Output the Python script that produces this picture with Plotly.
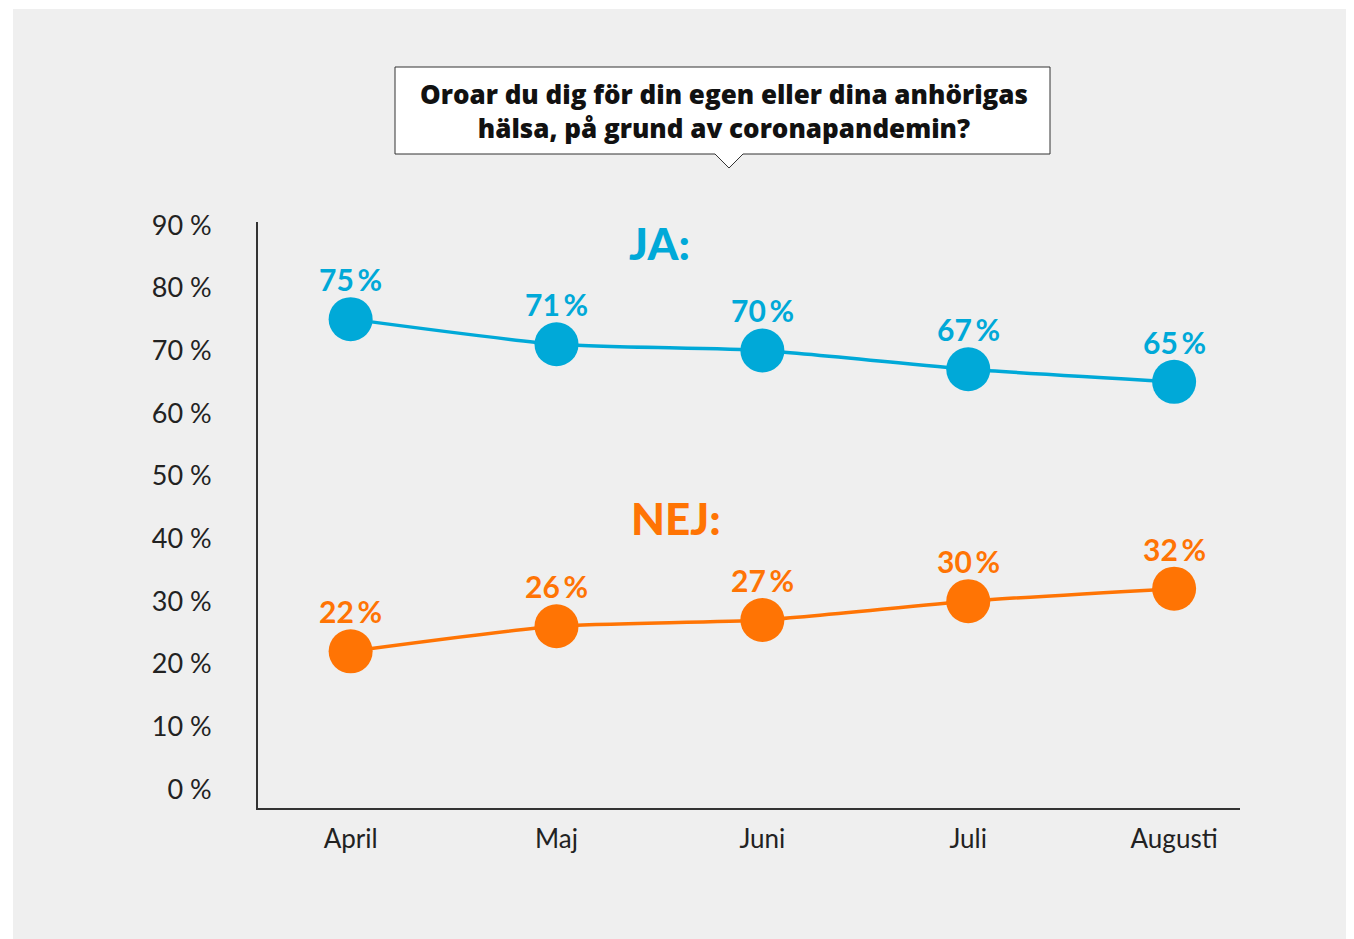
import plotly.graph_objects as go

months = ["April", "Maj", "Juni", "Juli", "Augusti"]
ja_values = [75, 71, 70, 67, 65]
nej_values = [22, 26, 27, 30, 32]
y_tick_values = [0, 10, 20, 30, 40, 50, 60, 70, 80, 90]
y_tick_labels = ["0 %", "10 %", "20 %", "30 %", "40 %", "50 %", "60 %", "70 %", "80 %", "90 %"]
title_text = "Oroar du dig för din egen eller dina anhörigas<br>hälsa, på grund av coronapandemin?"

BLUE = "#00a9d8"
ORANGE = "#ff7404"
OFF = 8  # default page body margin
W, H = 1354 - OFF, 939 - OFF
# plot area in reference (screen) pixels
L, R, T, B = 258, 1240, 222, 808


def px(x):
    return (x - L) / (R - L)


def py(y):
    return (B - y) / (B - T)


fig = go.Figure()
annotations = []
for vals, col in ((ja_values, BLUE), (nej_values, ORANGE)):
    fig.add_trace(go.Scatter(
        x=months, y=vals, mode="lines+markers",
        line=dict(color=col, width=3.5, shape="spline", smoothing=0.6),
        marker=dict(color=col, size=44),
        cliponaxis=False, showlegend=False, hoverinfo="skip",
    ))
    for m, v in zip(months, vals):
        annotations.append(dict(x=m, y=v, text=f"{v}\u2009%", showarrow=False, yshift=40,
                                yanchor="middle", xanchor="center",
                                font=dict(family="Lato", size=30, color=col, weight="bold")))

shapes = [dict(type="rect", xref="paper", yref="paper", x0=px(13), x1=px(1353), y0=py(950), y1=py(9),
               fillcolor="#efefef", line=dict(width=0), layer="below")]
path = (f"M {px(395)},{py(67)} L {px(1050)},{py(67)} L {px(1050)},{py(154)} "
        f"L {px(743)},{py(154)} L {px(729)},{py(168)} L {px(715)},{py(154)} "
        f"L {px(395)},{py(154)} Z")
shapes.append(dict(type="path", xref="paper", yref="paper", path=path, fillcolor="white",
                   line=dict(color="#333333", width=1), layer="above"))

annotations += [
    dict(xref="paper", yref="paper", x=px(724), y=py(111), yanchor="middle", xanchor="center",
         text=title_text, showarrow=False, align="center",
         font=dict(family="Open Sans", size=26, color="#111111", weight=800)),
    dict(x=1.5, y=87.2, text="JA:", showarrow=False, yanchor="middle",
         font=dict(family="Lato", size=44, color=BLUE, weight=900)),
    dict(x=1.58, y=43.2, text="NEJ:", showarrow=False, yanchor="middle",
         font=dict(family="Lato", size=44, color=ORANGE, weight=900)),
]

fig.update_layout(
    width=W, height=H,
    margin=dict(l=L - OFF, r=W - (R - OFF), t=T - OFF, b=H - (B - OFF), pad=0),
    paper_bgcolor="white", plot_bgcolor="#efefef",
    shapes=shapes,
    annotations=annotations,
    xaxis=dict(range=[-0.45, 4.32], showgrid=False, zeroline=False, showline=True,
               linecolor="#333333", linewidth=2, ticks="outside", ticklen=7,
               tickcolor="rgba(0,0,0,0)", tickfont=dict(family="Lato", size=26, color="#222222")),
    yaxis=dict(range=[-3, 90.5], showgrid=False, zeroline=False, showline=True,
               linecolor="#333333", linewidth=2, tickvals=y_tick_values, ticktext=y_tick_labels,
               ticks="outside", ticklen=39, tickcolor="rgba(0,0,0,0)",
               tickfont=dict(family="Lato", size=27, color="#222222")),
)
fig.write_html("out.html")
